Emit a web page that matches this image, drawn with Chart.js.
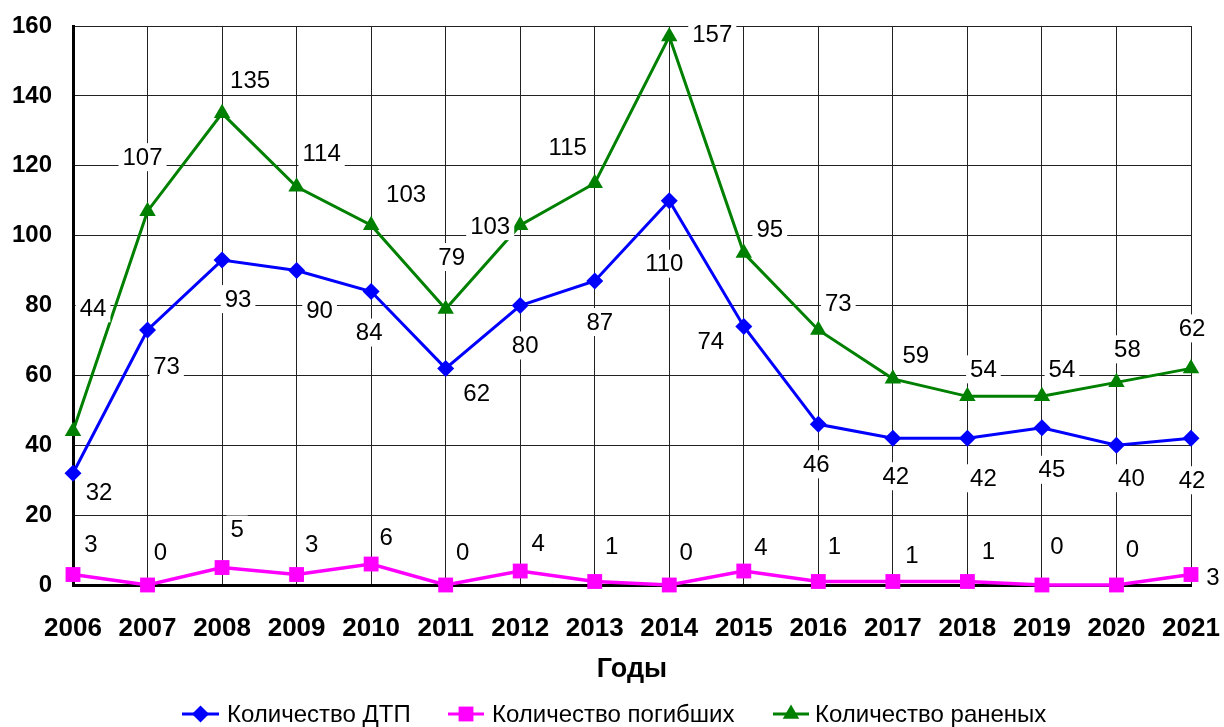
<!DOCTYPE html>
<html>
<head>
<meta charset="utf-8">
<script src="https://cdn.jsdelivr.net/npm/chart.js@4/dist/chart.umd.min.js"></script>
<style>
  html, body { margin: 0; padding: 0; background: #fff; }
  #wrap { width: 1224px; height: 727px; }
</style>
</head>
<body>
<div id="wrap"><canvas id="c" width="1224" height="727"></canvas></div>
<script>
const years = ["2006","2007","2008","2009","2010","2011","2012","2013","2014","2015","2016","2017","2018","2019","2020","2021"];
const accidents = [32, 73, 93, 90, 84, 62, 80, 87, 110, 74, 46, 42, 42, 45, 40, 42];
const killed = [3, 0, 5, 3, 6, 0, 4, 1, 0, 4, 1, 1, 1, 0, 0, 3];
const injured = [44, 107, 135, 114, 103, 79, 103, 115, 157, 95, 73, 59, 54, 54, 58, 62];
const yTicks = [0, 20, 40, 60, 80, 100, 120, 140, 160];

// label placement (pixel offsets from the marker), kept apart from the data
const accidentsLabelPos = [[26,19],[19,36],[16,39],[23,40],[-2,41],[31,25],[5,40],[5,41],[-5,63],[-33,15],[-2,40],[3,38],[16,40],[10,42],[15,33],[1,42]];
const killedLabelPos = [[18,-30],[13,-33],[15,-38],[15,-30],[15,-27],[17,-33],[18,-28],[17,-35],[17,-33],[17,-24],[16,-35],[19,-26],[21,-30],[15,-39],[16,-36],[22,3]];
const injuredLabelPos = [[20,-123],[-5,-54],[28,-33],[25,-33],[35,-31],[6,-52],[-30,1],[-27,-36],[43,-2],[26,-24],[20,-27],[23,-23],[16,-27],[20,-27],[11,-33],[1,-40]];

const labelFont = "24px 'Liberation Sans', Arial, sans-serif";

const pointLabels = {
  id: "pointLabels",
  afterDatasetsDraw(chart) {
    const ctx = chart.ctx;
    ctx.save();
    ctx.font = labelFont;
    ctx.textAlign = "center";
    ctx.textBaseline = "middle";
    chart.data.datasets.forEach((ds, di) => {
      const meta = chart.getDatasetMeta(di);
      meta.data.forEach((pt, i) => {
        const off = ds.labelPos[i];
        const txt = String(ds.data[i]);
        const x = pt.x + off[0], y = pt.y + off[1];
        const w = ctx.measureText(txt).width + 8;
        ctx.fillStyle = "#fff";
        ctx.fillRect(x - w / 2, y - 14, w, 28);
        ctx.fillStyle = "#000";
        ctx.fillText(txt, x, y + 1);
      });
    });
    ctx.restore();
  }
};

const extras = {
  id: "extras",
  afterDraw(chart) {
    const ctx = chart.ctx;
    ctx.save();
    // axis title
    ctx.font = "bold 27px 'Liberation Sans', Arial, sans-serif";
    ctx.fillStyle = "#000";
    ctx.textAlign = "center";
    ctx.textBaseline = "middle";
    ctx.fillText("Годы", 632, 670);
    // legend
    const items = [
      { x1: 182, x2: 219, tx: 227, ds: chart.data.datasets[0] },
      { x1: 448, x2: 484, tx: 492, ds: chart.data.datasets[1] },
      { x1: 773, x2: 809, tx: 815, ds: chart.data.datasets[2] }
    ];
    const ly = 714;
    items.forEach(it => {
      ctx.strokeStyle = it.ds.borderColor;
      ctx.lineWidth = 3;
      ctx.beginPath();
      ctx.moveTo(it.x1, ly);
      ctx.lineTo(it.x2, ly);
      ctx.stroke();
      ctx.fillStyle = it.ds.borderColor;
      Chart.helpers.drawPoint(ctx, { pointStyle: it.ds.pointStyle, radius: it.ds.pointRadius, borderWidth: 0 }, (it.x1 + it.x2) / 2, ly);
      ctx.fillStyle = "#000";
      ctx.font = "24px 'Liberation Sans', Arial, sans-serif";
      ctx.textAlign = "left";
      ctx.textBaseline = "middle";
      ctx.fillText(it.ds.label, it.tx, ly + 1);
    });
    ctx.restore();
  }
};

new Chart(document.getElementById("c"), {
  type: "line",
  data: {
    labels: years,
    datasets: [
      {
        label: "Количество ДТП",
        data: accidents,
        labelPos: accidentsLabelPos,
        borderColor: "#0000FF",
        backgroundColor: "#0000FF",
        borderWidth: 3,
        pointStyle: "rectRot",
        pointRadius: 8.5,
        pointBorderWidth: 0,
        clip: false
      },
      {
        label: "Количество погибших",
        data: killed,
        labelPos: killedLabelPos,
        borderColor: "#FF00FF",
        backgroundColor: "#FF00FF",
        borderWidth: 3.5,
        pointStyle: "rect",
        pointRadius: 10.5,
        pointBorderWidth: 0,
        clip: false
      },
      {
        label: "Количество раненых",
        data: injured,
        labelPos: injuredLabelPos,
        borderColor: "#008000",
        backgroundColor: "#008000",
        borderWidth: 3,
        pointStyle: "triangle",
        pointRadius: 9.5,
        pointBorderWidth: 0,
        clip: false
      }
    ]
  },
  options: {
    responsive: false,
    animation: false,
    devicePixelRatio: 1,
    layout: { padding: { top: 26, right: 33, left: 0, bottom: 82 } },
    plugins: {
      legend: { display: false },
      tooltip: { enabled: false }
    },
    elements: { line: { tension: 0 } },
    scales: {
      x: {
        offset: false,
        grid: { color: "#222", lineWidth: 1, drawTicks: false },
        border: { color: "#000", width: 3 },
        ticks: {
          padding: 28,
          color: "#000",
          maxRotation: 0,
          autoSkip: false,
          font: { family: "'Liberation Sans', Arial, sans-serif", size: 26, weight: "bold" }
        },
        afterFit(scale) {
          scale.height = 60;
          scale.paddingLeft = 0;
          scale.paddingRight = 0;
        }
      },
      y: {
        min: 0,
        max: 160,
        afterBuildTicks(scale) { scale.ticks = yTicks.map(v => ({ value: v })); },
        grid: { color: "#222", lineWidth: 1, drawTicks: false },
        border: { color: "#000", width: 3 },
        ticks: {
          padding: 21,
          color: "#000",
          font: { family: "'Liberation Sans', Arial, sans-serif", size: 24, weight: "bold" }
        },
        afterFit(scale) {
          scale.width = 73;
          scale.paddingTop = 0;
          scale.paddingBottom = 0;
        }
      }
    }
  },
  plugins: [pointLabels, extras]
});
</script>
</body>
</html>
